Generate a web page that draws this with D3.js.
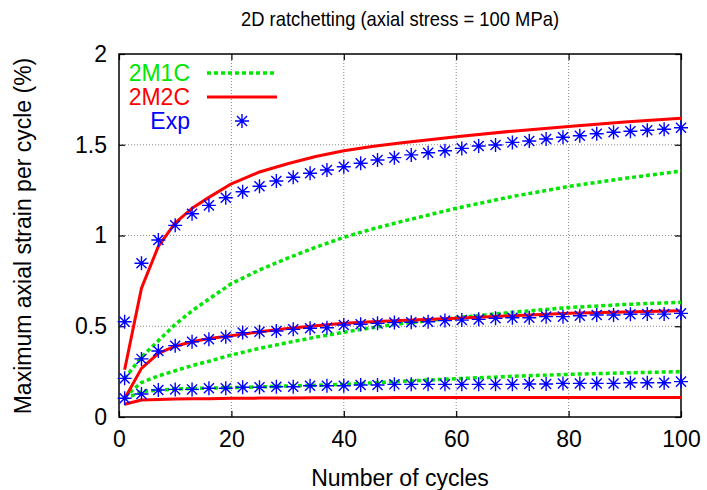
<!DOCTYPE html>
<html>
<head>
<meta charset="utf-8">
<script src="https://cdn.jsdelivr.net/npm/d3@7"></script>
<style>
  html, body { margin: 0; padding: 0; background: #fff; }
  svg { display: block; font-family: "Liberation Sans", Arial, Helvetica, sans-serif; }
</style>
</head>
<body>
<svg id="chart" width="707" height="490"></svg>
<script>
// Measured ratchetting strain per cycle (three loading cases)
const expCycles = [1, 4, 7, 10, 13, 16, 19, 22, 25, 28, 31, 34, 37, 40, 43, 46, 49, 52, 55, 58, 61, 64, 67, 70, 73, 76, 79, 82, 85, 88, 91, 94, 97, 100];
const expUpper = [0.525, 0.847, 0.975, 1.056, 1.12, 1.166, 1.208, 1.241, 1.271, 1.300, 1.321, 1.343, 1.361, 1.379, 1.398, 1.416, 1.429, 1.444, 1.456, 1.467, 1.480, 1.493, 1.499, 1.513, 1.521, 1.532, 1.541, 1.550, 1.561, 1.569, 1.574, 1.580, 1.585, 1.594];
const expMiddle = [0.213, 0.32, 0.364, 0.393, 0.415, 0.428, 0.442, 0.465, 0.47, 0.474, 0.483, 0.489, 0.492, 0.507, 0.511, 0.516, 0.52, 0.522, 0.525, 0.531, 0.534, 0.538, 0.544, 0.547, 0.547, 0.553, 0.553, 0.558, 0.562, 0.562, 0.566, 0.567, 0.567, 0.571];
const expLower = [0.103, 0.127, 0.149, 0.152, 0.152, 0.158, 0.158, 0.164, 0.164, 0.167, 0.167, 0.172, 0.172, 0.172, 0.176, 0.176, 0.18, 0.18, 0.18, 0.18, 0.18, 0.18, 0.18, 0.18, 0.182, 0.182, 0.185, 0.185, 0.185, 0.185, 0.189, 0.189, 0.189, 0.195];

// Model predictions
const modelCycles = [1, 4, 7, 10, 13, 16, 20, 25, 30, 35, 40, 45, 50, 60, 70, 80, 90, 100];
const m1cUpper = [0.213, 0.33, 0.42, 0.51, 0.585, 0.65, 0.735, 0.81, 0.875, 0.935, 0.99, 1.035, 1.075, 1.15, 1.215, 1.27, 1.315, 1.355];
const m1cMiddle = [0.11, 0.19, 0.226, 0.255, 0.283, 0.307, 0.342, 0.378, 0.41, 0.44, 0.467, 0.492, 0.514, 0.547, 0.577, 0.603, 0.62, 0.632];
const m1cLower = [0.10, 0.14, 0.148, 0.154, 0.157, 0.159, 0.162, 0.166, 0.171, 0.175, 0.18, 0.188, 0.196, 0.211, 0.224, 0.235, 0.243, 0.25];
const m2cUpper = [0.26, 0.71, 0.94, 1.07, 1.15, 1.21, 1.285, 1.35, 1.395, 1.435, 1.467, 1.49, 1.51, 1.544, 1.575, 1.60, 1.625, 1.646];
const m2cMiddle = [0.10, 0.268, 0.35, 0.39, 0.415, 0.433, 0.448, 0.47, 0.487, 0.503, 0.516, 0.525, 0.532, 0.544, 0.558, 0.571, 0.579, 0.586];
const m2cLower = [0.07, 0.094, 0.097, 0.099, 0.1, 0.101, 0.103, 0.104, 0.105, 0.106, 0.106, 0.106, 0.107, 0.107, 0.108, 0.108, 0.108, 0.108];

const xTicks = [0, 20, 40, 60, 80, 100];
const yTicks = [0, 0.5, 1, 1.5, 2];
const yTickLabels = ["0", "0.5", "1", "1.5", "2"];

const legendItems = [
  { label: "2M1C", kind: "m1c" },
  { label: "2M2C", kind: "m2c" },
  { label: "Exp", kind: "exp" }
];

const GREEN = "#00e600";
const RED = "#ff0000";
const BLUE = "#0000ff";
const FONT = 23;

const svg = d3.select("#chart");
const plot = { left: 119, right: 681, top: 54, bottom: 417 };

const x = d3.scaleLinear().domain([0, 100]).range([plot.left, plot.right]);
const y = d3.scaleLinear().domain([0, 2]).range([plot.bottom, plot.top]);

// grid
const grid = svg.append("g");
grid.selectAll("line.gx").data(xTicks.slice(1, -1)).enter().append("line")
  .attr("x1", d => x(d)).attr("x2", d => x(d))
  .attr("y1", plot.top).attr("y2", plot.bottom)
  .attr("stroke", "#888").attr("stroke-width", 1).attr("stroke-dasharray", "1,2");
grid.selectAll("line.gy").data(yTicks.slice(1, -1)).enter().append("line")
  .attr("x1", plot.left).attr("x2", plot.right)
  .attr("y1", d => y(d)).attr("y2", d => y(d))
  .attr("stroke", "#888").attr("stroke-width", 1).attr("stroke-dasharray", "1,2");

// axes with inward ticks, mirrored on every side
const tickLen = 6;
const axB = svg.append("g").attr("transform", `translate(0,${plot.bottom})`)
  .call(d3.axisBottom(x).tickValues(xTicks).tickSizeInner(-tickLen).tickSizeOuter(0).tickPadding(14));
const axT = svg.append("g").attr("transform", `translate(0,${plot.top})`)
  .call(d3.axisTop(x).tickValues(xTicks).tickSizeInner(-tickLen).tickSizeOuter(0).tickFormat(""));
const axL = svg.append("g").attr("transform", `translate(${plot.left},0)`)
  .call(d3.axisLeft(y).tickValues(yTicks).tickSizeInner(-tickLen).tickSizeOuter(0)
    .tickFormat((d, i) => yTickLabels[i]).tickPadding(12));
const axR = svg.append("g").attr("transform", `translate(${plot.right},0)`)
  .call(d3.axisRight(y).tickValues(yTicks).tickSizeInner(-tickLen).tickSizeOuter(0).tickFormat(""));
[axB, axT, axL, axR].forEach(a => {
  a.select(".domain").remove();
  a.selectAll(".tick line").attr("stroke", "#000").attr("stroke-width", 1.2);
  a.selectAll("text").attr("font-size", FONT).attr("font-family", "Liberation Sans, Arial, sans-serif").attr("fill", "#000");
});

// frame
svg.append("rect")
  .attr("x", plot.left).attr("y", plot.top)
  .attr("width", plot.right - plot.left).attr("height", plot.bottom - plot.top)
  .attr("fill", "none").attr("stroke", "#000").attr("stroke-width", 1.5);

// model curves
const line = d3.line().x(d => x(d[0])).y(d => y(d[1]));
const pairs = vals => modelCycles.map((c, i) => [c, vals[i]]);
const curves = svg.append("g");
[m1cUpper, m1cMiddle, m1cLower].forEach(vals => {
  curves.append("path").datum(pairs(vals)).attr("d", line)
    .attr("fill", "none").attr("stroke", GREEN).attr("stroke-width", 3.5)
    .attr("stroke-dasharray", "4,3");
});
[m2cUpper, m2cMiddle, m2cLower].forEach(vals => {
  curves.append("path").datum(pairs(vals)).attr("d", line)
    .attr("fill", "none").attr("stroke", RED).attr("stroke-width", 3)
    .attr("stroke-linejoin", "round");
});

// asterisk markers
const STAR = 7;
function star(g, cx, cy) {
  const d = STAR * 0.72;
  const p = `M${cx - STAR},${cy}H${cx + STAR}M${cx},${cy - STAR}V${cy + STAR}` +
    `M${cx - d},${cy - d}L${cx + d},${cy + d}M${cx - d},${cy + d}L${cx + d},${cy - d}`;
  g.append("path").attr("d", p).attr("stroke", BLUE).attr("stroke-width", 1.4).attr("fill", "none");
}
const marks = svg.append("g");
[expUpper, expMiddle, expLower].forEach(vals => {
  vals.forEach((v, i) => star(marks, x(expCycles[i]), y(v)));
});

// legend
const leg = svg.append("g");
legendItems.forEach((it, i) => {
  const ly = 73 + i * 24;
  const col = it.kind === "m1c" ? GREEN : it.kind === "m2c" ? RED : BLUE;
  leg.append("text").attr("x", 190).attr("y", ly).attr("dy", "0.36em")
    .attr("text-anchor", "end").attr("font-size", FONT).attr("fill", col).text(it.label);
  if (it.kind === "exp") {
    star(leg, 242, ly);
  } else {
    leg.append("line").attr("x1", 207).attr("x2", 277).attr("y1", ly).attr("y2", ly)
      .attr("stroke", col).attr("stroke-width", it.kind === "m1c" ? 3.5 : 3)
      .attr("stroke-dasharray", it.kind === "m1c" ? "4,3" : null);
  }
});

// titles
svg.append("text").attr("x", 400).attr("y", 26).attr("text-anchor", "middle")
  .attr("font-size", 21).attr("textLength", 318).attr("lengthAdjust", "spacingAndGlyphs")
  .text("2D ratchetting (axial stress = 100 MPa)");
svg.append("text").attr("x", 400).attr("y", 486).attr("text-anchor", "middle")
  .attr("font-size", FONT).text("Number of cycles");
svg.append("text").attr("transform", "translate(31,236) rotate(-90)").attr("text-anchor", "middle")
  .attr("font-size", FONT).text("Maximum axial strain per cycle (%)");
</script>
</body>
</html>
